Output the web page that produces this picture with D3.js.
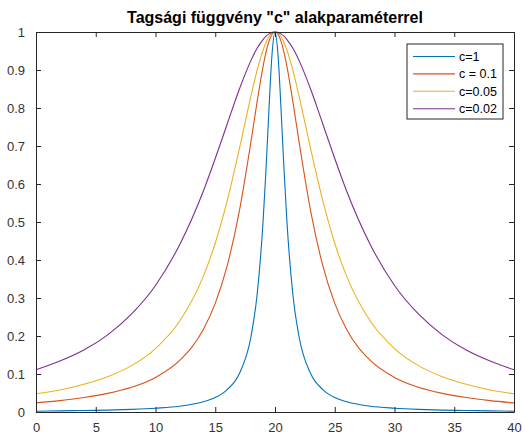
<!DOCTYPE html>
<html lang="hu">
<head>
<meta charset="UTF-8">
<title>Tagsági függvény</title>
<script src="https://d3js.org/d3.v7.min.js"></script>
<style>
  body { margin: 0; background: #fff; }
  svg { display: block; font-family: "Liberation Sans", Arial, sans-serif; }
  .tick text { fill: #333; font-size: 13px; }
</style>
</head>
<body>
<svg width="525" height="436"></svg>
<script>
// x sample positions
const xs = [0, 2, 4, 6, 8, 10, 12, 14, 15, 16, 17, 18, 18.5, 19, 19.25, 19.5, 19.75, 20,
            20.25, 20.5, 20.75, 21, 21.5, 22, 23, 24, 25, 26, 28, 30, 32, 34, 36, 38, 40];

const c1 = [0.002, 0.003, 0.004, 0.005, 0.007, 0.010, 0.015, 0.027, 0.038, 0.059, 0.100, 0.200, 0.308, 0.500, 0.640, 0.800, 0.941, 1.000,
            0.941, 0.800, 0.640, 0.500, 0.308, 0.200, 0.100, 0.059, 0.038, 0.027, 0.015, 0.010, 0.007, 0.005, 0.004, 0.003, 0.002];
const c01 = [0.024, 0.030, 0.038, 0.049, 0.065, 0.091, 0.135, 0.217, 0.286, 0.385, 0.526, 0.714, 0.816, 0.909, 0.947, 0.976, 0.994, 1.000,
             0.994, 0.976, 0.947, 0.909, 0.816, 0.714, 0.526, 0.385, 0.286, 0.217, 0.135, 0.091, 0.065, 0.049, 0.038, 0.030, 0.024];
const c005 = [0.048, 0.058, 0.073, 0.093, 0.122, 0.167, 0.238, 0.357, 0.444, 0.556, 0.690, 0.833, 0.899, 0.952, 0.973, 0.988, 0.997, 1.000,
              0.997, 0.988, 0.973, 0.952, 0.899, 0.833, 0.690, 0.556, 0.444, 0.357, 0.238, 0.167, 0.122, 0.093, 0.073, 0.058, 0.048];
const c002 = [0.111, 0.134, 0.163, 0.203, 0.258, 0.333, 0.439, 0.581, 0.667, 0.758, 0.848, 0.926, 0.957, 0.980, 0.989, 0.995, 0.999, 1.000,
              0.999, 0.995, 0.989, 0.980, 0.957, 0.926, 0.848, 0.758, 0.667, 0.581, 0.439, 0.333, 0.258, 0.203, 0.163, 0.134, 0.111];

const labels = ["c=1", "c = 0.1", "c=0.05", "c=0.02"];
const colors = ["#0072BD", "#D95319", "#EDB120", "#7E2F8E"];
const xTicks = d3.range(0, 41, 5);
const yTicks = d3.range(0, 11).map(d => d / 10);

const series = [c1, c01, c005, c002].map((vals, i) => ({
    name: labels[i], color: colors[i],
    points: xs.map((x, j) => [x, vals[j]])
}));

const margin = { top: 32, right: 11, bottom: 24, left: 36 };
const W = 525, H = 436;
const svg = d3.select("svg");

const x = d3.scaleLinear().domain([0, 40]).range([margin.left, W - margin.right]);
const y = d3.scaleLinear().domain([0, 1]).range([H - margin.bottom, margin.top]);

const line = d3.line()
    .x(d => x(d[0]))
    .y(d => y(d[1]))
    .curve(d3.curveMonotoneX);

// curves
svg.append("g")
    .selectAll("path")
    .data(series)
    .join("path")
    .attr("d", d => line(d.points))
    .attr("fill", "none")
    .attr("stroke", d => d.color)
    .attr("stroke-width", 1.1);

// axes, ticks pointing inward like matlab
const axColor = "#262626";
svg.append("g")
    .attr("transform", `translate(0,${y(0)})`)
    .call(d3.axisBottom(x).tickValues(xTicks).tickSizeInner(-5).tickSizeOuter(0).tickPadding(11).tickFormat(d3.format("d")));
svg.append("g")
    .attr("transform", `translate(${x(0)},0)`)
    .call(d3.axisLeft(y).tickValues(yTicks).tickSizeInner(-5).tickSizeOuter(0).tickPadding(11)
        .tickFormat(d => d === 0 || d === 1 ? d : d3.format(".1f")(d)));
svg.append("g")
    .attr("transform", `translate(0,${y(1)})`)
    .call(d3.axisTop(x).tickValues(xTicks).tickSizeInner(-5).tickSizeOuter(0).tickFormat(""));
svg.append("g")
    .attr("transform", `translate(${x(40)},0)`)
    .call(d3.axisRight(y).tickValues(yTicks).tickSizeInner(-5).tickSizeOuter(0).tickFormat(""));

svg.selectAll(".domain").attr("stroke", axColor).attr("stroke-width", 1);
svg.selectAll(".tick line").attr("stroke", axColor);

// title
svg.append("text")
    .attr("x", (x(0) + x(40)) / 2)
    .attr("y", 23)
    .attr("text-anchor", "middle")
    .attr("font-weight", "bold")
    .attr("font-size", 16)
    .attr("fill", "#000")
    .text('Tagsági függvény "c" alakparaméterrel');

// legend
const lg = svg.append("g").attr("transform", "translate(407,44)");
lg.append("rect")
    .attr("width", 96).attr("height", 75)
    .attr("fill", "#fff").attr("stroke", axColor).attr("stroke-width", 1);
const rows = lg.selectAll("g.row")
    .data(series)
    .join("g")
    .attr("class", "row")
    .attr("transform", (d, i) => `translate(0,${12.5 + i * 17.4})`);
rows.append("line")
    .attr("x1", 6).attr("x2", 48)
    .attr("stroke", d => d.color).attr("stroke-width", 1.1);
rows.append("text")
    .attr("x", 52).attr("y", 4.5)
    .attr("font-size", 12.5)
    .attr("fill", "#000")
    .text(d => d.name);
</script>
</body>
</html>
